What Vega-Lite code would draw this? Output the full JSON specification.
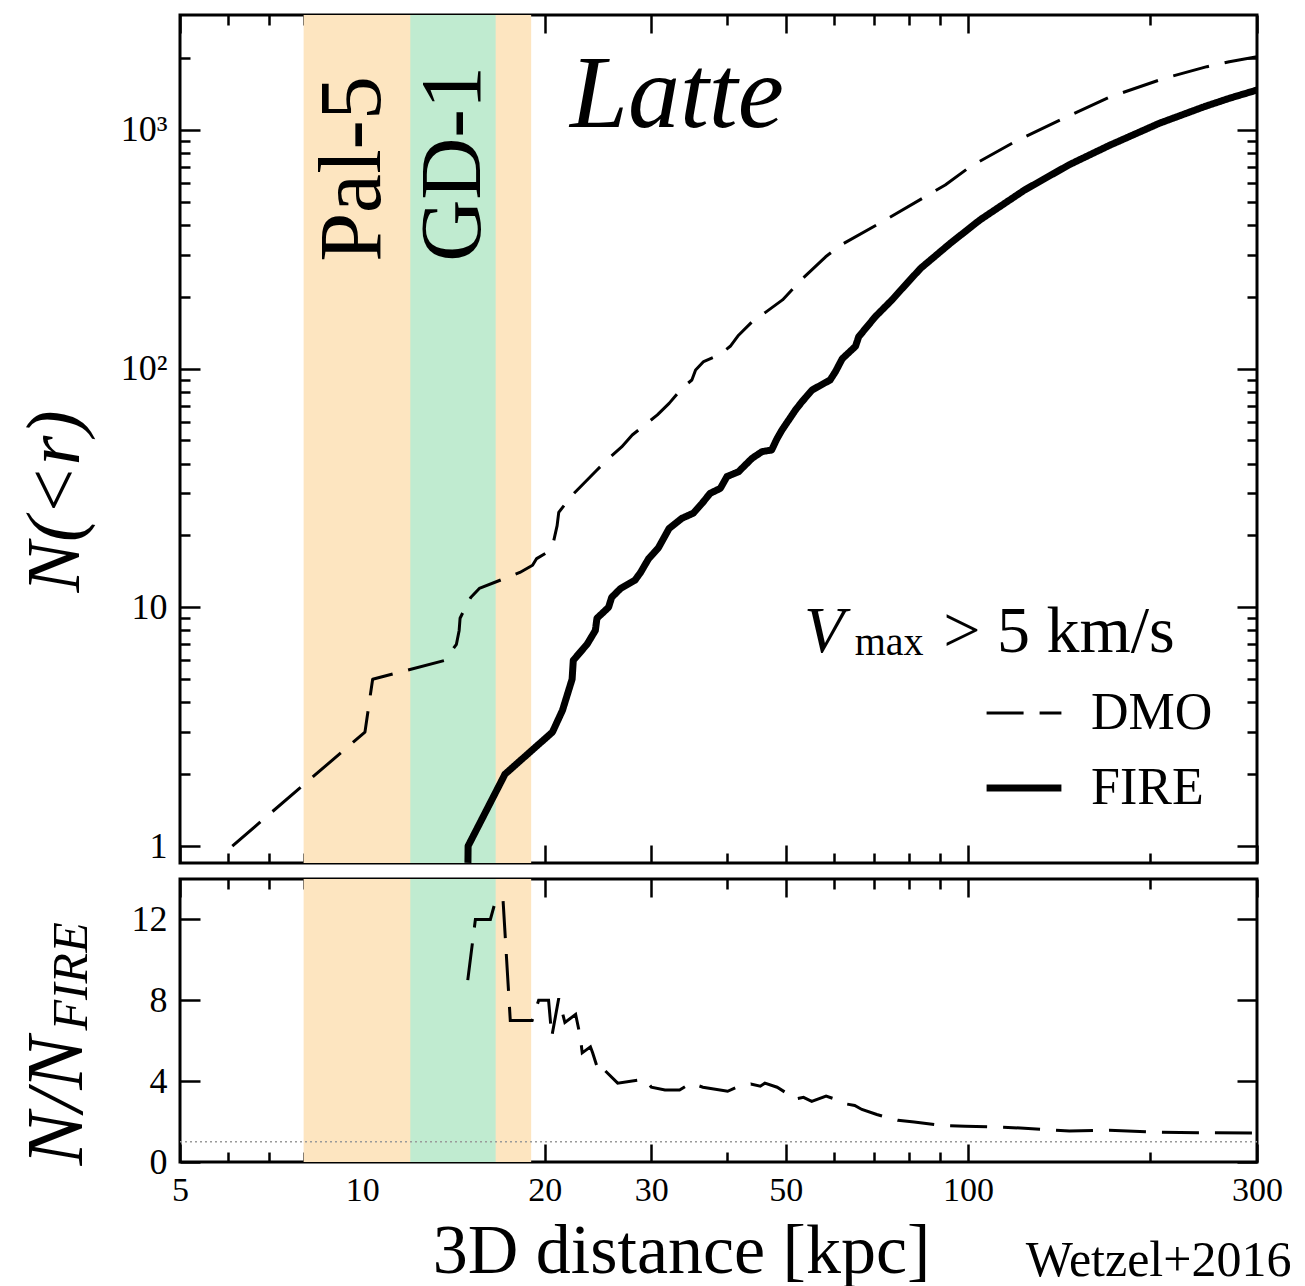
{
  "$schema": "https://vega.github.io/schema/vega-lite/v6.json",
  "background": "white",
  "padding": {"left": 15, "top": 12, "right": 0, "bottom": 0},
  "autosize": {"type": "pad"},
  "config": {
    "view": {"stroke": "black", "strokeWidth": 3},
    "font": "Liberation Serif",
    "axis": {
      "domain": false, "grid": false, "tickColor": "black", "tickWidth": 2.5,
      "labelColor": "black", "labelFont": "Liberation Serif", "labelFontSize": 36,
      "labelFlush": false, "labelOverlap": false,
      "titleColor": "black", "titleFont": "Liberation Serif", "titleFontWeight": "normal",
      "minExtent": 0
    }
  },
  "datasets": {
    "bands": [
      {"band": "Pal-5", "lo": 8, "hi": 19},
      {"band": "GD-1", "lo": 12, "hi": 16.6}
    ],
    "cumulative": [
      {"model": "DMO", "r": 6.1, "N": 1},
      {"model": "DMO", "r": 10.1, "N": 3},
      {"model": "DMO", "r": 10.4, "N": 5},
      {"model": "DMO", "r": 13.7, "N": 6},
      {"model": "DMO", "r": 14.3, "N": 7},
      {"model": "DMO", "r": 14.45, "N": 8},
      {"model": "DMO", "r": 14.5, "N": 9},
      {"model": "DMO", "r": 14.8, "N": 10},
      {"model": "DMO", "r": 15.1, "N": 11},
      {"model": "DMO", "r": 15.6, "N": 12},
      {"model": "DMO", "r": 18.2, "N": 14},
      {"model": "DMO", "r": 19.1, "N": 15},
      {"model": "DMO", "r": 19.4, "N": 16},
      {"model": "DMO", "r": 20.2, "N": 17},
      {"model": "DMO", "r": 20.7, "N": 19},
      {"model": "DMO", "r": 20.97, "N": 22},
      {"model": "DMO", "r": 21.1, "N": 25},
      {"model": "DMO", "r": 22.2, "N": 29.5},
      {"model": "DMO", "r": 23.2, "N": 33},
      {"model": "DMO", "r": 24.4, "N": 37.6},
      {"model": "DMO", "r": 25.7, "N": 42.8},
      {"model": "DMO", "r": 26.8, "N": 47},
      {"model": "DMO", "r": 27.9, "N": 52.7},
      {"model": "DMO", "r": 29.5, "N": 59},
      {"model": "DMO", "r": 30.7, "N": 64},
      {"model": "DMO", "r": 32.1, "N": 71.5},
      {"model": "DMO", "r": 33.7, "N": 82.7},
      {"model": "DMO", "r": 35.0, "N": 89.6},
      {"model": "DMO", "r": 35.5, "N": 98.6},
      {"model": "DMO", "r": 36.6, "N": 107},
      {"model": "DMO", "r": 38.8, "N": 114},
      {"model": "DMO", "r": 40.5, "N": 124},
      {"model": "DMO", "r": 41.8, "N": 138},
      {"model": "DMO", "r": 44.0, "N": 157},
      {"model": "DMO", "r": 46.3, "N": 172},
      {"model": "DMO", "r": 49.4, "N": 194},
      {"model": "DMO", "r": 53, "N": 235},
      {"model": "DMO", "r": 58.2, "N": 294},
      {"model": "DMO", "r": 61.6, "N": 329},
      {"model": "DMO", "r": 73, "N": 419},
      {"model": "DMO", "r": 85, "N": 525},
      {"model": "DMO", "r": 91.7, "N": 588},
      {"model": "DMO", "r": 100.8, "N": 701},
      {"model": "DMO", "r": 119.5, "N": 892},
      {"model": "DMO", "r": 142, "N": 1100},
      {"model": "DMO", "r": 171, "N": 1370},
      {"model": "DMO", "r": 211, "N": 1645},
      {"model": "DMO", "r": 248, "N": 1840},
      {"model": "DMO", "r": 270, "N": 1930},
      {"model": "DMO", "r": 300, "N": 2026},
      {"model": "FIRE", "r": 14.94, "N": 0.85},
      {"model": "FIRE", "r": 14.95, "N": 1},
      {"model": "FIRE", "r": 17.2, "N": 2},
      {"model": "FIRE", "r": 20.6, "N": 3},
      {"model": "FIRE", "r": 21.4, "N": 3.7},
      {"model": "FIRE", "r": 22.2, "N": 5},
      {"model": "FIRE", "r": 22.3, "N": 6},
      {"model": "FIRE", "r": 23.5, "N": 7},
      {"model": "FIRE", "r": 24.25, "N": 8},
      {"model": "FIRE", "r": 24.4, "N": 9},
      {"model": "FIRE", "r": 25.5, "N": 10},
      {"model": "FIRE", "r": 25.8, "N": 11},
      {"model": "FIRE", "r": 26.7, "N": 12},
      {"model": "FIRE", "r": 28.2, "N": 13},
      {"model": "FIRE", "r": 28.8, "N": 14},
      {"model": "FIRE", "r": 29.7, "N": 16},
      {"model": "FIRE", "r": 30.8, "N": 17.7},
      {"model": "FIRE", "r": 32.1, "N": 21.4},
      {"model": "FIRE", "r": 33.7, "N": 23.6},
      {"model": "FIRE", "r": 35.2, "N": 24.8},
      {"model": "FIRE", "r": 36.4, "N": 27.3},
      {"model": "FIRE", "r": 37.5, "N": 30},
      {"model": "FIRE", "r": 39, "N": 31.5},
      {"model": "FIRE", "r": 40, "N": 35.3},
      {"model": "FIRE", "r": 41.8, "N": 37},
      {"model": "FIRE", "r": 44, "N": 42.1},
      {"model": "FIRE", "r": 45.7, "N": 44.9},
      {"model": "FIRE", "r": 47.4, "N": 45.6},
      {"model": "FIRE", "r": 48.4, "N": 51},
      {"model": "FIRE", "r": 49.3, "N": 55.3},
      {"model": "FIRE", "r": 51.9, "N": 67.1},
      {"model": "FIRE", "r": 53.2, "N": 72.7},
      {"model": "FIRE", "r": 55.3, "N": 81.4},
      {"model": "FIRE", "r": 59.2, "N": 89.6},
      {"model": "FIRE", "r": 60.4, "N": 97},
      {"model": "FIRE", "r": 62, "N": 110},
      {"model": "FIRE", "r": 65.2, "N": 124},
      {"model": "FIRE", "r": 66, "N": 136},
      {"model": "FIRE", "r": 70.3, "N": 165},
      {"model": "FIRE", "r": 74.9, "N": 194},
      {"model": "FIRE", "r": 77.4, "N": 213},
      {"model": "FIRE", "r": 83.5, "N": 263},
      {"model": "FIRE", "r": 93.5, "N": 335},
      {"model": "FIRE", "r": 104.7, "N": 420},
      {"model": "FIRE", "r": 124, "N": 560},
      {"model": "FIRE", "r": 147, "N": 715},
      {"model": "FIRE", "r": 171, "N": 860},
      {"model": "FIRE", "r": 207, "N": 1066},
      {"model": "FIRE", "r": 245.5, "N": 1251},
      {"model": "FIRE", "r": 270, "N": 1356},
      {"model": "FIRE", "r": 300, "N": 1469}
    ],
    "ratio": [
      {"r": 14.93, "ratio": 9},
      {"r": 15.37, "ratio": 12},
      {"r": 16.27, "ratio": 12},
      {"r": 16.62, "ratio": 13},
      {"r": 17.07, "ratio": 13},
      {"r": 17.55, "ratio": 7},
      {"r": 19.07, "ratio": 7},
      {"r": 19.55, "ratio": 8},
      {"r": 20.3, "ratio": 8},
      {"r": 20.55, "ratio": 6.2},
      {"r": 21.1, "ratio": 8.1},
      {"r": 21.6, "ratio": 6.9},
      {"r": 22.5, "ratio": 7.3},
      {"r": 22.9, "ratio": 6.2},
      {"r": 23.07, "ratio": 5.4},
      {"r": 23.8, "ratio": 5.7},
      {"r": 24.0, "ratio": 5.4},
      {"r": 24.6, "ratio": 4.4},
      {"r": 25.1, "ratio": 4.55},
      {"r": 26.4, "ratio": 3.9},
      {"r": 29.3, "ratio": 4.1},
      {"r": 30, "ratio": 3.7},
      {"r": 31.6, "ratio": 3.56},
      {"r": 33.4, "ratio": 3.56},
      {"r": 34.9, "ratio": 3.9},
      {"r": 36.5, "ratio": 3.7},
      {"r": 40.1, "ratio": 3.5},
      {"r": 41.5, "ratio": 3.7},
      {"r": 43.8, "ratio": 3.86},
      {"r": 45.4, "ratio": 3.75},
      {"r": 46.2, "ratio": 3.9},
      {"r": 48.4, "ratio": 3.7},
      {"r": 50.2, "ratio": 3.4},
      {"r": 51.6, "ratio": 3.1},
      {"r": 53.5, "ratio": 3.2},
      {"r": 55.2, "ratio": 3.0},
      {"r": 58.3, "ratio": 3.26},
      {"r": 59.9, "ratio": 3.14},
      {"r": 62.1, "ratio": 2.9},
      {"r": 65, "ratio": 2.8},
      {"r": 66.8, "ratio": 2.6},
      {"r": 70.7, "ratio": 2.35},
      {"r": 76.6, "ratio": 2.06},
      {"r": 81.5, "ratio": 1.98},
      {"r": 89.7, "ratio": 1.82},
      {"r": 99, "ratio": 1.77},
      {"r": 111, "ratio": 1.73},
      {"r": 122, "ratio": 1.68},
      {"r": 147, "ratio": 1.53},
      {"r": 171, "ratio": 1.57},
      {"r": 202, "ratio": 1.48},
      {"r": 240, "ratio": 1.45},
      {"r": 298, "ratio": 1.43}
    ]
  },
  "spacing": 10,
  "vconcat": [
    {
      "width": 1077,
      "height": 848,
      "resolve": {"axis": {"x": "independent", "y": "independent"}},
      "layer": [
        {
          "data": {"name": "bands"},
          "mark": {"type": "rect"},
          "encoding": {
            "x": {"field": "lo", "type": "quantitative", "scale": {"type": "log", "domain": [5, 300], "nice": false}, "axis": null},
            "x2": {"field": "hi"},
            "color": {"field": "band", "type": "nominal", "scale": {"domain": ["Pal-5", "GD-1"], "range": ["#fde5c0", "#c0ebd0"]}, "legend": null}
          }
        },
        {
          "data": {"values": [{}]},
          "mark": {"type": "text", "text": "Pal-5", "angle": 270, "align": "left", "baseline": "alphabetic", "fontSize": 88, "font": "Liberation Serif", "color": "black"},
          "encoding": {
            "x": {"datum": 10.69, "type": "quantitative", "scale": {"type": "log", "domain": [5, 300], "nice": false}, "axis": null},
            "y": {"datum": 280, "type": "quantitative", "scale": {"type": "log", "domain": [0.849, 3029], "nice": false}, "axis": null}
          }
        },
        {
          "data": {"values": [{}]},
          "mark": {"type": "text", "text": "GD-1", "angle": 270, "align": "left", "baseline": "alphabetic", "fontSize": 86, "font": "Liberation Serif", "color": "black"},
          "encoding": {
            "x": {"datum": 15.64, "type": "quantitative", "scale": {"type": "log", "domain": [5, 300], "nice": false}, "axis": null},
            "y": {"datum": 280, "type": "quantitative", "scale": {"type": "log", "domain": [0.849, 3029], "nice": false}, "axis": null}
          }
        },
        {
          "data": {"values": [{}]},
          "mark": {"type": "text", "text": "Latte", "align": "left", "baseline": "alphabetic", "fontSize": 104, "fontStyle": "italic", "font": "Liberation Serif", "color": "black"},
          "encoding": {
            "x": {"datum": 22.03, "type": "quantitative", "scale": {"type": "log", "domain": [5, 300], "nice": false}, "axis": null},
            "y": {"datum": 1028, "type": "quantitative", "scale": {"type": "log", "domain": [0.849, 3029], "nice": false}, "axis": null}
          }
        },
        {
          "data": {"values": [{}]},
          "mark": {"type": "text", "text": "V", "align": "left", "baseline": "alphabetic", "fontSize": 66, "fontStyle": "italic", "font": "Liberation Serif", "color": "black"},
          "encoding": {
            "x": {"datum": 53.6, "type": "quantitative", "scale": {"type": "log", "domain": [5, 300], "nice": false}, "axis": null},
            "y": {"datum": 6.5, "type": "quantitative", "scale": {"type": "log", "domain": [0.849, 3029], "nice": false}, "axis": null}
          }
        },
        {
          "data": {"values": [{}]},
          "mark": {"type": "text", "text": "max", "align": "left", "baseline": "alphabetic", "fontSize": 40, "font": "Liberation Serif", "color": "black"},
          "encoding": {
            "x": {"datum": 65, "type": "quantitative", "scale": {"type": "log", "domain": [5, 300], "nice": false}, "axis": null},
            "y": {"datum": 6.3, "type": "quantitative", "scale": {"type": "log", "domain": [0.849, 3029], "nice": false}, "axis": null}
          }
        },
        {
          "data": {"values": [{}]},
          "mark": {"type": "text", "text": "> 5 km/s", "align": "center", "baseline": "alphabetic", "fontSize": 66, "font": "Liberation Serif", "color": "black"},
          "encoding": {
            "x": {"datum": 141.3, "type": "quantitative", "scale": {"type": "log", "domain": [5, 300], "nice": false}, "axis": null},
            "y": {"datum": 6.5, "type": "quantitative", "scale": {"type": "log", "domain": [0.849, 3029], "nice": false}, "axis": null}
          }
        },
        {
          "data": {"name": "cumulative"},
          "mark": {"type": "line", "color": "black", "clip": true, "strokeCap": "butt", "strokeJoin": "round"},
          "encoding": {
            "x": {
              "field": "r", "type": "quantitative",
              "scale": {"type": "log", "domain": [5, 300], "nice": false},
              "axis": {"orient": "bottom", "values": [5, 10, 20, 30, 50, 100, 300], "labels": false, "tickSize": -18, "title": null}
            },
            "y": {
              "field": "N", "type": "quantitative",
              "scale": {"type": "log", "domain": [0.849, 3029], "nice": false},
              "axis": {
                "orient": "left", "values": [1, 10, 100, 1000], "tickSize": -20, "labelPadding": 33,
                "labelExpr": "datum.value == 100 ? '10\u00b2' : datum.value == 1000 ? '10\u00b3' : format(datum.value, 'd')",
                "labelAlign": "right", "labelBaseline": "middle",
                "title": "N(<r)", "titleFontSize": 76, "titleFontStyle": "italic", "titleAngle": 270,
                "titleX": -102, "titleY": 486, "titleAlign": "center", "titleBaseline": "alphabetic"
              }
            },
            "strokeDash": {
              "field": "model", "type": "nominal",
              "scale": {"domain": ["DMO", "FIRE"], "range": [[37, 16], [1, 0]]},
              "legend": {"orient": "none", "legendX": 803, "legendY": 659, "title": null, "labelFontSize": 52, "labelFont": "Liberation Serif", "labelColor": "black", "symbolType": "stroke", "symbolSize": 5600, "symbolStrokeColor": "black", "labelOffset": 26, "rowPadding": 8}
            },
            "strokeWidth": {
              "field": "model", "type": "nominal",
              "scale": {"domain": ["DMO", "FIRE"], "range": [3, 7]},
              "legend": {"orient": "none", "legendX": 803, "legendY": 659, "title": null, "labelFontSize": 52, "labelFont": "Liberation Serif", "labelColor": "black", "symbolType": "stroke", "symbolSize": 5600, "symbolStrokeColor": "black", "labelOffset": 26, "rowPadding": 8}
            }
          }
        },
        {
          "data": {"values": [{}]},
          "mark": {"type": "point", "opacity": 0, "size": 0},
          "encoding": {
            "x": {"datum": 10, "type": "quantitative", "scale": {"type": "log", "domain": [5, 300], "nice": false}, "axis": {"orient": "bottom", "values": [6, 7, 8, 9, 40, 60, 70, 80, 90, 200], "labels": false, "tickSize": -10, "title": null}},
            "y": {"datum": 10, "type": "quantitative", "scale": {"type": "log", "domain": [0.849, 3029], "nice": false}, "axis": {"orient": "left", "values": [2, 3, 4, 5, 6, 7, 8, 9, 20, 30, 40, 50, 60, 70, 80, 90, 200, 300, 400, 500, 600, 700, 800, 900, 2000], "labels": false, "tickSize": -10, "title": null}}
          }
        },
        {
          "data": {"values": [{}]},
          "mark": {"type": "point", "opacity": 0, "size": 0},
          "encoding": {
            "x": {"datum": 10, "type": "quantitative", "scale": {"type": "log", "domain": [5, 300], "nice": false}, "axis": {"orient": "top", "values": [5, 10, 20, 30, 50, 100, 300], "labels": false, "tickSize": -18, "title": null}},
            "y": {"datum": 10, "type": "quantitative", "scale": {"type": "log", "domain": [0.849, 3029], "nice": false}, "axis": {"orient": "right", "values": [1, 10, 100, 1000], "labels": false, "tickSize": -20, "title": null}}
          }
        },
        {
          "data": {"values": [{}]},
          "mark": {"type": "point", "opacity": 0, "size": 0},
          "encoding": {
            "x": {"datum": 10, "type": "quantitative", "scale": {"type": "log", "domain": [5, 300], "nice": false}, "axis": {"orient": "top", "values": [6, 7, 8, 9, 40, 60, 70, 80, 90, 200], "labels": false, "tickSize": -10, "title": null}},
            "y": {"datum": 10, "type": "quantitative", "scale": {"type": "log", "domain": [0.849, 3029], "nice": false}, "axis": {"orient": "right", "values": [2, 3, 4, 5, 6, 7, 8, 9, 20, 30, 40, 50, 60, 70, 80, 90, 200, 300, 400, 500, 600, 700, 800, 900, 2000], "labels": false, "tickSize": -10, "title": null}}
          }
        }
      ]
    },
    {
      "width": 1077,
      "height": 283,
      "resolve": {"axis": {"x": "independent", "y": "independent"}},
      "layer": [
        {
          "data": {"name": "bands"},
          "mark": {"type": "rect"},
          "encoding": {
            "x": {"field": "lo", "type": "quantitative", "scale": {"type": "log", "domain": [5, 300], "nice": false}, "axis": null},
            "x2": {"field": "hi"},
            "color": {"field": "band", "type": "nominal", "scale": {"domain": ["Pal-5", "GD-1"], "range": ["#fde5c0", "#c0ebd0"]}, "legend": null}
          }
        },
        {
          "data": {"values": [{}]},
          "mark": {"type": "rule", "color": "#9a9a9a", "strokeDash": [2, 3], "strokeWidth": 1.5},
          "encoding": {
            "x": {"datum": 5, "type": "quantitative", "scale": {"type": "log", "domain": [5, 300], "nice": false}, "axis": null},
            "x2": {"datum": 300},
            "y": {"datum": 1, "type": "quantitative", "scale": {"domain": [0, 14], "nice": false}, "axis": null}
          }
        },
        {
          "data": {"name": "ratio"},
          "mark": {"type": "line", "color": "black", "strokeWidth": 3, "strokeDash": [37, 16], "clip": true, "strokeCap": "butt"},
          "encoding": {
            "x": {
              "field": "r", "type": "quantitative",
              "scale": {"type": "log", "domain": [5, 300], "nice": false},
              "axis": {
                "orient": "bottom", "values": [5, 10, 20, 30, 50, 100, 300], "format": "d", "tickSize": -18, "labelPadding": 29,
                "labelBaseline": "top", "labelFontSize": 34,
                "title": "3D distance [kpc]", "titleFontSize": 70, "titleX": 501, "titleY": 110.5, "titleAlign": "center", "titleBaseline": "alphabetic"
              }
            },
            "y": {
              "field": "ratio", "type": "quantitative",
              "scale": {"domain": [0, 14], "nice": false},
              "axis": {"orient": "left", "values": [0, 4, 8, 12], "format": "d", "tickSize": -20, "labelPadding": 33, "title": null}
            }
          }
        },
        {
          "data": {"values": [{}]},
          "mark": {"type": "point", "opacity": 0, "size": 0},
          "encoding": {
            "x": {"datum": 10, "type": "quantitative", "scale": {"type": "log", "domain": [5, 300], "nice": false}, "axis": {"orient": "bottom", "values": [6, 7, 8, 9, 40, 60, 70, 80, 90, 200], "labels": false, "tickSize": -10, "title": null}},
            "y": {"datum": 4, "type": "quantitative", "scale": {"domain": [0, 14], "nice": false}, "axis": null}
          }
        },
        {
          "data": {"values": [{}]},
          "mark": {"type": "point", "opacity": 0, "size": 0},
          "encoding": {
            "x": {"datum": 10, "type": "quantitative", "scale": {"type": "log", "domain": [5, 300], "nice": false}, "axis": {"orient": "top", "values": [5, 10, 20, 30, 50, 100, 300], "labels": false, "tickSize": -18, "title": null}},
            "y": {"datum": 4, "type": "quantitative", "scale": {"domain": [0, 14], "nice": false}, "axis": {"orient": "right", "values": [0, 4, 8, 12], "labels": false, "tickSize": -20, "title": null}}
          }
        },
        {
          "data": {"values": [{}]},
          "mark": {"type": "point", "opacity": 0, "size": 0},
          "encoding": {
            "x": {"datum": 10, "type": "quantitative", "scale": {"type": "log", "domain": [5, 300], "nice": false}, "axis": {"orient": "top", "values": [6, 7, 8, 9, 40, 60, 70, 80, 90, 200], "labels": false, "tickSize": -10, "title": null}},
            "y": {"datum": 4, "type": "quantitative", "scale": {"domain": [0, 14], "nice": false}, "axis": null}
          }
        },
        {
          "data": {"values": [{}]},
          "mark": {"type": "text", "text": "N/N", "angle": 270, "align": "left", "baseline": "alphabetic", "fontSize": 80, "fontStyle": "italic", "font": "Liberation Serif", "color": "black"},
          "encoding": {
            "x": {"datum": 3.446, "type": "quantitative", "scale": {"type": "log", "domain": [5, 300], "nice": false}, "axis": null},
            "y": {"datum": -0.17, "type": "quantitative", "scale": {"domain": [0, 14], "nice": false}, "axis": null}
          }
        },
        {
          "data": {"values": [{}]},
          "mark": {"type": "text", "text": "FIRE", "angle": 270, "align": "left", "baseline": "alphabetic", "fontSize": 50, "fontStyle": "italic", "font": "Liberation Serif", "color": "black"},
          "encoding": {
            "x": {"datum": 3.51, "type": "quantitative", "scale": {"type": "log", "domain": [5, 300], "nice": false}, "axis": null},
            "y": {"datum": 6.5, "type": "quantitative", "scale": {"domain": [0, 14], "nice": false}, "axis": null}
          }
        },
        {
          "data": {"values": [{}]},
          "mark": {"type": "text", "text": "Wetzel+2016", "align": "right", "baseline": "alphabetic", "fontSize": 50, "font": "Liberation Serif", "color": "black"},
          "encoding": {
            "x": {"datum": 342, "type": "quantitative", "scale": {"type": "log", "domain": [5, 300], "nice": false}, "axis": null},
            "y": {"datum": -5.65, "type": "quantitative", "scale": {"domain": [0, 14], "nice": false}, "axis": null}
          }
        }
      ]
    }
  ]
}
